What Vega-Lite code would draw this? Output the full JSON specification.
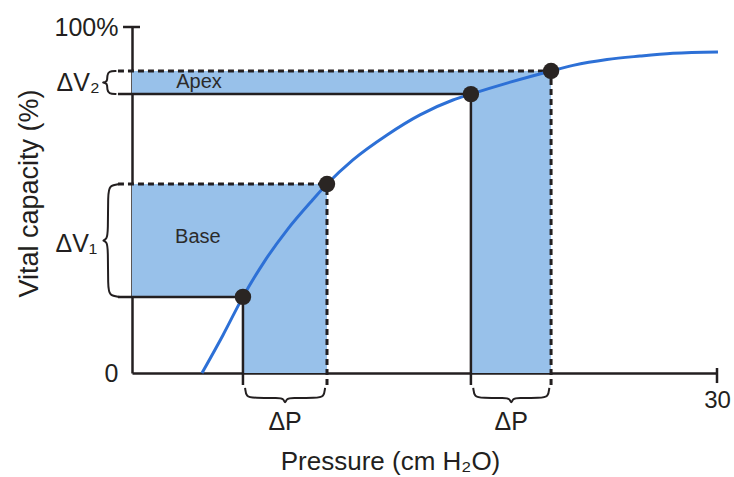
{
  "$schema": "https://vega.github.io/schema/vega-lite/v6.json",
  "autosize": {"type": "none"},
  "padding": {"left": 132, "top": 27, "right": 17, "bottom": 104},
  "width": 585,
  "height": 346,
  "config": {"view": {"stroke": null}, "font": "Liberation Sans"},
  "datasets": {
    "rects": [
      {"x": 0, "x2": 10.0, "y": 22, "y2": 54.6},
      {"x": 5.69, "x2": 10.0, "y": 0, "y2": 22},
      {"x": 0, "x2": 21.49, "y": 80.6, "y2": 87.3},
      {"x": 17.38, "x2": 21.49, "y": 0, "y2": 80.6}
    ],
    "solid": [
      {"x": -0.72, "x2": 5.69, "y": 22, "y2": 22},
      {"x": 5.69, "x2": 5.69, "y": -3.47, "y2": 22},
      {"x": -0.72, "x2": 17.38, "y": 80.6, "y2": 80.6},
      {"x": 17.38, "x2": 17.38, "y": -3.47, "y2": 80.6},
      {"x": -0.46, "x2": 0.41, "y": 100, "y2": 100},
      {"x": 30, "x2": 30, "y": -2.9, "y2": 1.45}
    ],
    "dashed": [
      {"x": -0.72, "x2": 10.0, "y": 54.6, "y2": 54.6},
      {"x": 10.0, "x2": 10.0, "y": -3.47, "y2": 54.6},
      {"x": -0.72, "x2": 21.49, "y": 87.3, "y2": 87.3},
      {"x": 21.49, "x2": 21.49, "y": -3.47, "y2": 87.3}
    ],
    "curve": [
      {"x": 3.59, "y": 0},
      {"x": 4.67, "y": 11},
      {"x": 5.69, "y": 22},
      {"x": 6.82, "y": 32.5},
      {"x": 7.95, "y": 41.3},
      {"x": 9.23, "y": 49.8},
      {"x": 10.0, "y": 54.6},
      {"x": 11.33, "y": 61.6},
      {"x": 13.08, "y": 68.8},
      {"x": 14.77, "y": 74.6},
      {"x": 16.46, "y": 78.9},
      {"x": 17.38, "y": 80.6},
      {"x": 21.49, "y": 87.3},
      {"x": 22.62, "y": 88.9},
      {"x": 24.36, "y": 90.6},
      {"x": 26.05, "y": 91.6},
      {"x": 27.74, "y": 92.4},
      {"x": 30.05, "y": 92.8}
    ],
    "braces": [
      {"g": "v1", "i": 0, "x": -0.62, "y": 54.6},
      {"g": "v1", "i": 1, "x": -1.18, "y": 54.2},
      {"g": "v1", "i": 2, "x": -1.23, "y": 51.5},
      {"g": "v1", "i": 3, "x": -1.23, "y": 41},
      {"g": "v1", "i": 4, "x": -1.28, "y": 38.6},
      {"g": "v1", "i": 5, "x": -1.56, "y": 38.3},
      {"g": "v1", "i": 6, "x": -1.28, "y": 38.0},
      {"g": "v1", "i": 7, "x": -1.23, "y": 35.6},
      {"g": "v1", "i": 8, "x": -1.23, "y": 25.1},
      {"g": "v1", "i": 9, "x": -1.18, "y": 22.4},
      {"g": "v1", "i": 10, "x": -0.62, "y": 22},
      {"g": "v2", "i": 0, "x": -0.8, "y": 87.3},
      {"g": "v2", "i": 1, "x": -1.2, "y": 87.2},
      {"g": "v2", "i": 2, "x": -1.27, "y": 86.0},
      {"g": "v2", "i": 3, "x": -1.27, "y": 84.6},
      {"g": "v2", "i": 4, "x": -1.33, "y": 84.1},
      {"g": "v2", "i": 5, "x": -1.56, "y": 83.95},
      {"g": "v2", "i": 6, "x": -1.33, "y": 83.8},
      {"g": "v2", "i": 7, "x": -1.27, "y": 83.3},
      {"g": "v2", "i": 8, "x": -1.27, "y": 81.9},
      {"g": "v2", "i": 9, "x": -1.2, "y": 80.7},
      {"g": "v2", "i": 10, "x": -0.8, "y": 80.6},
      {"g": "p1", "i": 0, "x": 5.8, "y": -4.3},
      {"g": "p1", "i": 1, "x": 5.85, "y": -6.9},
      {"g": "p1", "i": 2, "x": 6.25, "y": -7.2},
      {"g": "p1", "i": 3, "x": 7.55, "y": -7.2},
      {"g": "p1", "i": 4, "x": 7.77, "y": -7.4},
      {"g": "p1", "i": 5, "x": 7.85, "y": -9.0},
      {"g": "p1", "i": 6, "x": 7.93, "y": -7.4},
      {"g": "p1", "i": 7, "x": 8.15, "y": -7.2},
      {"g": "p1", "i": 8, "x": 9.45, "y": -7.2},
      {"g": "p1", "i": 9, "x": 9.85, "y": -6.9},
      {"g": "p1", "i": 10, "x": 9.9, "y": -4.3},
      {"g": "p2", "i": 0, "x": 17.5, "y": -4.3},
      {"g": "p2", "i": 1, "x": 17.55, "y": -6.9},
      {"g": "p2", "i": 2, "x": 17.95, "y": -7.2},
      {"g": "p2", "i": 3, "x": 19.15, "y": -7.2},
      {"g": "p2", "i": 4, "x": 19.37, "y": -7.4},
      {"g": "p2", "i": 5, "x": 19.45, "y": -9.0},
      {"g": "p2", "i": 6, "x": 19.53, "y": -7.4},
      {"g": "p2", "i": 7, "x": 19.75, "y": -7.2},
      {"g": "p2", "i": 8, "x": 20.95, "y": -7.2},
      {"g": "p2", "i": 9, "x": 21.35, "y": -6.9},
      {"g": "p2", "i": 10, "x": 21.4, "y": -4.3}
    ],
    "points": [
      {"x": 5.69, "y": 22},
      {"x": 10.0, "y": 54.6},
      {"x": 17.38, "y": 80.6},
      {"x": 21.49, "y": 87.3}
    ],
    "regionLabels": [
      {"x": 3.38, "y": 39.3, "text": "Base"},
      {"x": 3.44, "y": 84.0, "text": "Apex"}
    ],
    "deltaP": [
      {"x": 7.85, "y": -14.3, "text": "ΔP"},
      {"x": 19.45, "y": -14.3, "text": "ΔP"}
    ],
    "deltaV": [
      {"x": -1.78, "y": 37.4, "text": "ΔV₁"},
      {"x": -1.66, "y": 83.8, "text": "ΔV₂"}
    ]
  },
  "encoding": {
    "x": {
      "field": "x", "type": "quantitative",
      "scale": {"domain": [0, 30], "nice": false, "zero": false},
      "axis": {
        "values": [30], "labelExpr": "'30'", "ticks": false, "grid": false,
        "labelPadding": 15, "labelFontSize": 24, "labelColor": "#231f20", "labelFlush": false,
        "domainColor": "#231f20", "domainWidth": 2.5,
        "title": "Pressure (cm H₂O)", "titleFontSize": 26, "titleFontWeight": "normal", "titleColor": "#231f20",
        "titleX": 258, "titleY": 96, "titleBaseline": "alphabetic", "titleAlign": "center"
      }
    },
    "y": {
      "field": "y", "type": "quantitative",
      "scale": {"domain": [0, 100], "nice": false, "zero": false},
      "axis": {
        "values": [0, 100], "labelExpr": "datum.value == 100 ? '100%' : '0'", "ticks": false, "grid": false,
        "labelPadding": 14, "labelFontSize": 25, "labelColor": "#231f20", "labelFlush": false,
        "domainColor": "#231f20", "domainWidth": 2.5,
        "title": "Vital capacity (%)", "titleFontSize": 27, "titleFontWeight": "normal", "titleColor": "#231f20",
        "titleX": -95, "titleY": 166, "titleBaseline": "alphabetic", "titleAlign": "center", "titleAngle": 270
      }
    }
  },
  "layer": [
    {
      "data": {"name": "rects"},
      "mark": {"type": "rect", "color": "#98c1ea", "opacity": 1},
      "encoding": {"x2": {"field": "x2"}, "y2": {"field": "y2"}}
    },
    {
      "data": {"name": "solid"},
      "mark": {"type": "rule", "color": "#231f20", "strokeWidth": 2.5},
      "encoding": {"x2": {"field": "x2"}, "y2": {"field": "y2"}}
    },
    {
      "data": {"name": "dashed"},
      "mark": {"type": "rule", "color": "#231f20", "strokeWidth": 3, "strokeDash": [6, 4]},
      "encoding": {"x2": {"field": "x2"}, "y2": {"field": "y2"}}
    },
    {
      "data": {"name": "curve"},
      "mark": {"type": "line", "color": "#2d70d6", "strokeWidth": 3, "interpolate": "monotone"},
      "encoding": {}
    },
    {
      "data": {"name": "braces"},
      "mark": {"type": "line", "color": "#231f20", "strokeWidth": 2, "interpolate": "basis"},
      "encoding": {"detail": {"field": "g"}, "order": {"field": "i", "type": "quantitative"}}
    },
    {
      "data": {"name": "points"},
      "mark": {"type": "point", "filled": true, "shape": "circle", "size": 270, "color": "#2a2523", "opacity": 1},
      "encoding": {}
    },
    {
      "data": {"name": "regionLabels"},
      "mark": {"type": "text", "fontSize": 20, "color": "#2b2b2b", "align": "center", "baseline": "middle"},
      "encoding": {"text": {"field": "text"}}
    },
    {
      "data": {"name": "deltaP"},
      "mark": {"type": "text", "fontSize": 25, "color": "#231f20", "align": "center", "baseline": "middle"},
      "encoding": {"text": {"field": "text"}}
    },
    {
      "data": {"name": "deltaV"},
      "mark": {"type": "text", "fontSize": 25, "color": "#231f20", "align": "right", "baseline": "middle"},
      "encoding": {"text": {"field": "text"}}
    }
  ]
}
